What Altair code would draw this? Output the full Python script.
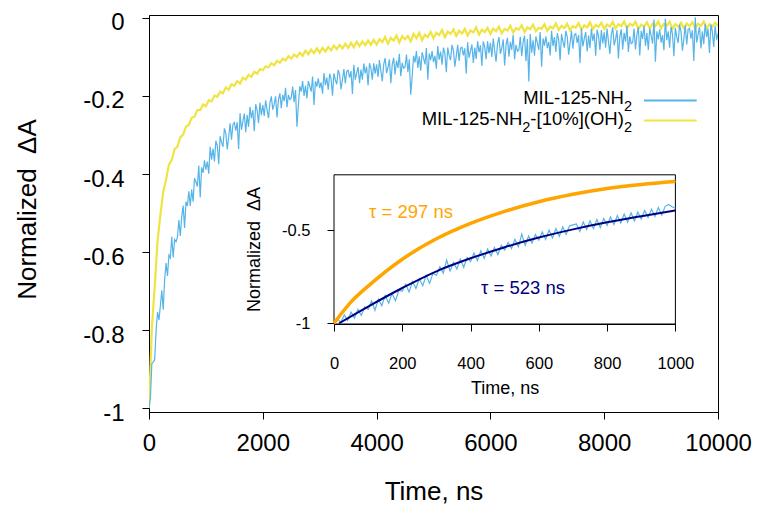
import altair as alt
import pandas as pd

FONT = "Liberation Sans, Arial, Helvetica, sans-serif"
BLUE = "#56B4E9"
YELLOW = "#F0E442"
ORANGE = "#FFA500"
NAVY = "#000080"

# ---------------- main panel data (time in ns, normalized dA) ----------------
t_blue_main = list(range(0, 10001, 25))
blue_main = [
    -1.000, -0.972, -0.886, -0.882, -0.876, -0.800, -0.754, -0.774, -0.737, -0.698,
    -0.748, -0.670, -0.628, -0.661, -0.608, -0.615, -0.561, -0.614, -0.568, -0.574,
    -0.562, -0.518, -0.559, -0.510, -0.481, -0.538, -0.471, -0.482, -0.444, -0.482,
    -0.440, -0.471, -0.411, -0.420, -0.432, -0.378, -0.460, -0.383, -0.397, -0.365,
    -0.389, -0.368, -0.399, -0.330, -0.363, -0.335, -0.368, -0.315, -0.327, -0.375,
    -0.303, -0.319, -0.330, -0.283, -0.295, -0.337, -0.305, -0.270, -0.312, -0.273,
    -0.268, -0.289, -0.267, -0.336, -0.244, -0.287, -0.265, -0.245, -0.293, -0.249,
    -0.279, -0.228, -0.257, -0.236, -0.290, -0.221, -0.236, -0.270, -0.217, -0.249,
    -0.223, -0.251, -0.211, -0.235, -0.257, -0.217, -0.201, -0.235, -0.221, -0.201,
    -0.255, -0.209, -0.193, -0.231, -0.197, -0.213, -0.179, -0.229, -0.197, -0.209,
    -0.205, -0.176, -0.216, -0.185, -0.279, -0.224, -0.175, -0.189, -0.162, -0.200,
    -0.173, -0.206, -0.162, -0.175, -0.189, -0.150, -0.223, -0.162, -0.176, -0.155,
    -0.180, -0.165, -0.194, -0.141, -0.172, -0.153, -0.184, -0.143, -0.156, -0.199,
    -0.142, -0.159, -0.170, -0.133, -0.146, -0.183, -0.158, -0.131, -0.168, -0.137,
    -0.134, -0.153, -0.136, -0.195, -0.120, -0.158, -0.141, -0.126, -0.167, -0.132,
    -0.158, -0.117, -0.142, -0.125, -0.173, -0.116, -0.129, -0.158, -0.116, -0.143,
    -0.119, -0.151, -0.108, -0.136, -0.162, -0.119, -0.103, -0.141, -0.127, -0.106,
    -0.167, -0.119, -0.102, -0.145, -0.109, -0.128, -0.092, -0.149, -0.115, -0.129,
    -0.126, -0.094, -0.139, -0.106, -0.197, -0.151, -0.097, -0.114, -0.085, -0.128,
    -0.098, -0.135, -0.088, -0.103, -0.119, -0.077, -0.158, -0.091, -0.108, -0.085,
    -0.113, -0.097, -0.130, -0.072, -0.107, -0.086, -0.120, -0.076, -0.091, -0.139,
    -0.076, -0.096, -0.108, -0.069, -0.083, -0.125, -0.098, -0.069, -0.110, -0.077,
    -0.075, -0.096, -0.078, -0.143, -0.062, -0.102, -0.085, -0.068, -0.115, -0.076,
    -0.105, -0.060, -0.088, -0.070, -0.123, -0.060, -0.074, -0.106, -0.060, -0.090,
    -0.064, -0.100, -0.053, -0.084, -0.112, -0.066, -0.049, -0.092, -0.077, -0.055,
    -0.122, -0.069, -0.051, -0.099, -0.061, -0.082, -0.043, -0.106, -0.069, -0.085,
    -0.082, -0.048, -0.098, -0.062, -0.045, -0.111, -0.054, -0.163, -0.041, -0.089,
    -0.057, -0.097, -0.047, -0.064, -0.082, -0.036, -0.125, -0.052, -0.071, -0.047,
    -0.077, -0.061, -0.096, -0.033, -0.072, -0.049, -0.087, -0.039, -0.055, -0.108,
    -0.041, -0.061, -0.076, -0.033, -0.048, -0.094, -0.065, -0.033, -0.079, -0.043,
    -0.040, -0.064, -0.044, -0.116, -0.027, -0.073, -0.053, -0.036, -0.086, -0.045,
    -0.077, -0.028, -0.059, -0.040, -0.097, -0.030, -0.046, -0.082, -0.031, -0.065,
    -0.037, -0.076, -0.027, -0.061, -0.092, -0.043, -0.024, -0.070, -0.055, -0.031,
    -0.104, -0.047, -0.029, -0.081, -0.038, -0.061, -0.020, -0.087, -0.047, -0.066,
    -0.063, -0.027, -0.081, -0.042, -0.024, -0.096, -0.033, -0.054, -0.020, -0.072,
    -0.038, -0.082, -0.027, -0.045, -0.066, -0.004, -0.112, -0.034, -0.055, -0.029,
    -0.063, -0.044, -0.083, -0.002, -0.057, -0.034, -0.076, -0.023, -0.041, -0.098,
    -0.025, -0.049, -0.064, -0.017, -0.035, -0.084, -0.053, -0.019, -0.068, -0.029,
    -0.027, -0.053, -0.032, -0.110, 0.002, -0.063, -0.042, -0.023, -0.078, -0.034,
    -0.067, -0.015, -0.049, -0.028, -0.090, -0.017, -0.035, -0.074, -0.020, -0.056,
    -0.040,
]
t_yellow_main = list(range(0, 10001, 50))
yellow_main = [
    -1.000, -0.795, -0.690, -0.572, -0.505, -0.446, -0.414, -0.376, -0.364, -0.336,
    -0.330, -0.306, -0.299, -0.278, -0.274, -0.256, -0.253, -0.236, -0.236, -0.222,
    -0.226, -0.211, -0.214, -0.199, -0.202, -0.189, -0.193, -0.178, -0.184, -0.170,
    -0.174, -0.162, -0.168, -0.153, -0.158, -0.146, -0.151, -0.138, -0.143, -0.131,
    -0.134, -0.124, -0.127, -0.116, -0.121, -0.110, -0.115, -0.104, -0.109, -0.098,
    -0.104, -0.094, -0.100, -0.089, -0.097, -0.084, -0.093, -0.081, -0.090, -0.078,
    -0.089, -0.077, -0.086, -0.074, -0.083, -0.071, -0.080, -0.069, -0.078, -0.066,
    -0.077, -0.064, -0.075, -0.061, -0.072, -0.060, -0.070, -0.058, -0.069, -0.056,
    -0.068, -0.054, -0.062, -0.049, -0.066, -0.051, -0.058, -0.045, -0.063, -0.047,
    -0.055, -0.046, -0.060, -0.041, -0.052, -0.038, -0.057, -0.043, -0.049, -0.036,
    -0.052, -0.038, -0.044, -0.031, -0.049, -0.035, -0.041, -0.029, -0.046, -0.033,
    -0.040, -0.028, -0.045, -0.032, -0.037, -0.024, -0.043, -0.030, -0.036, -0.025,
    -0.041, -0.027, -0.034, -0.022, -0.039, -0.028, -0.032, -0.020, -0.037, -0.026,
    -0.030, -0.019, -0.036, -0.024, -0.029, -0.017, -0.034, -0.025, -0.028, -0.016,
    -0.033, -0.022, -0.027, -0.014, -0.031, -0.020, -0.026, -0.015, -0.032, -0.021,
    -0.025, -0.013, -0.030, -0.019, -0.024, -0.011, -0.029, -0.018, -0.023, -0.012,
    -0.028, -0.017, -0.022, -0.010, -0.027, -0.016, -0.021, -0.009, -0.026, -0.015,
    -0.020, -0.010, -0.028, -0.017, -0.022, -0.011, -0.027, -0.014, -0.021, -0.009,
    -0.026, -0.015, -0.020, -0.010, -0.028, -0.016, -0.022, -0.012, -0.027, -0.014,
    -0.021, -0.011, -0.026, -0.015, -0.020, -0.009, -0.027, -0.016, -0.022, -0.012,
    -0.020,
]

# ---------------- inset data (first 1000 ns) ----------------
t_inset_blue = list(range(0, 1001, 10))
blue_inset = [
    -1.000, -0.975, -0.995, -0.955, -0.985, -0.940, -0.972, -0.925, -0.958, -0.912,
    -0.925, -0.880, -0.930, -0.870, -0.905, -0.850, -0.892, -0.840, -0.878, -0.822,
    -0.828, -0.790, -0.832, -0.775, -0.812, -0.760, -0.798, -0.742, -0.785, -0.730,
    -0.742, -0.695, -0.730, -0.660, -0.718, -0.672, -0.708, -0.655, -0.698, -0.645,
    -0.668, -0.622, -0.662, -0.610, -0.650, -0.600, -0.638, -0.592, -0.630, -0.580,
    -0.605, -0.565, -0.598, -0.548, -0.588, -0.520, -0.580, -0.530, -0.568, -0.522,
    -0.552, -0.508, -0.548, -0.498, -0.540, -0.490, -0.532, -0.480, -0.522, -0.475,
    -0.470, -0.465, -0.505, -0.455, -0.495, -0.448, -0.490, -0.440, -0.485, -0.435,
    -0.472, -0.428, -0.468, -0.420, -0.460, -0.412, -0.455, -0.405, -0.448, -0.400,
    -0.438, -0.392, -0.430, -0.385, -0.424, -0.376, -0.418, -0.370, -0.360, -0.372,
    -0.380,
]
t_inset_yellow = list(range(0, 1001, 20))
yellow_inset = [
    -1.000, -0.945, -0.915, -0.860, -0.838, -0.795, -0.774, -0.735, -0.714, -0.676,
    -0.658, -0.632, -0.614, -0.585, -0.571, -0.546, -0.534, -0.510, -0.500, -0.476,
    -0.466, -0.446, -0.438, -0.418, -0.411, -0.393, -0.388, -0.370, -0.366, -0.350,
    -0.346, -0.332, -0.329, -0.315, -0.313, -0.300, -0.299, -0.287, -0.286, -0.275,
    -0.276, -0.264, -0.265, -0.255, -0.256, -0.247, -0.249, -0.240, -0.243, -0.234,
    -0.236,
]
fit_297_t = [0, 50, 100, 200, 300, 400, 500, 600, 700, 800, 900, 1000]
fit_297_y = [-1.0, -0.885, -0.80, -0.655, -0.545, -0.462, -0.397, -0.345, -0.305, -0.274, -0.252, -0.236]
fit_523_t = [15, 100, 200, 300, 400, 500, 600, 700, 800, 900, 1000]
fit_523_y = [-1.0, -0.91, -0.81, -0.72, -0.65, -0.59, -0.538, -0.494, -0.456, -0.423, -0.392]

legend_row1 = ["MIL-125-NH", "2"]
legend_row2 = ["MIL-125-NH", "2", "-[10%](OH)", "2"]
tau_labels = ["\u03c4 = 297 ns", "\u03c4 = 523 ns"]
y_title = "Normalized\u00a0 \u0394A"

MAIN_X = [0, 10000]
MAIN_Y = [-1.01, 0.0076]
INSET_X = [0, 1000]
INSET_Y = [-1.004, -0.2]

W, H = 569, 397   # view: x 149..718, y 15..412 on the page

# ---------------- main panel ----------------
x_main = alt.X(
    "t:Q",
    scale=alt.Scale(domain=MAIN_X, nice=False, zero=False),
    axis=alt.Axis(
        orient="bottom", values=[0, 2000, 4000, 6000, 8000, 10000], format="d",
        title="Time, ns", tickSize=7, labelFontSize=24, labelPadding=12,
        labelFlush=False, labelOverlap=False,
        titleFontSize=26, titleX=284.5, titleY=87, titleAlign="center",
        titleBaseline="alphabetic",
    ),
)
y_main = alt.Y(
    "y:Q",
    scale=alt.Scale(domain=MAIN_Y, nice=False, zero=False),
    axis=alt.Axis(
        orient="left", values=[-1, -0.8, -0.6, -0.4, -0.2, 0],
        labelExpr="datum.value == 0 ? '0' : (datum.value <= -0.999 ? '-1' : '-' + format(abs(datum.value), '.1f'))",
        title=y_title, tickSize=7, labelFontSize=24, labelPadding=18, labelOffset=5,
        labelFlush=False, labelOverlap=False,
        titleFontSize=26, titleAngle=-90, titleX=-114, titleY=194,
        titleAlign="center", titleBaseline="alphabetic",
    ),
)

blue_line = alt.Chart(pd.DataFrame({"t": t_blue_main, "y": blue_main})).mark_line(
    color=BLUE, strokeWidth=1.2, clip=True
).encode(x=x_main, y=y_main)
yellow_line = alt.Chart(pd.DataFrame({"t": t_yellow_main, "y": yellow_main})).mark_line(
    color=YELLOW, strokeWidth=2.2, clip=True
).encode(x=x_main, y=y_main)

one = pd.DataFrame({"k": [0]})


def text_piece(txt, x, y, size, color, align="left", baseline="alphabetic"):
    return alt.Chart(pd.DataFrame({"text": [txt]})).mark_text(
        align=align, baseline=baseline, fontSize=size, font=FONT, color=color
    ).encode(x=alt.value(x), y=alt.value(y), text="text:N")


# legend (label on the left, line sample on the right)
LF, SF = 18.5, 14.5
legend = [
    text_piece(legend_row1[0], 474.9, 89, LF, "black", align="right"),
    text_piece(legend_row1[1], 483, 96, SF, "black", align="right"),
    text_piece(legend_row2[0], 373.4, 110, LF, "black", align="right"),
    text_piece(legend_row2[1], 381.4, 117, SF, "black", align="right"),
    text_piece(legend_row2[2], 474.9, 110, LF, "black", align="right"),
    text_piece(legend_row2[3], 483, 117, SF, "black", align="right"),
    alt.Chart(one).mark_rule(color=BLUE, strokeWidth=1.8).encode(
        x=alt.value(495), x2=alt.value(547.7), y=alt.value(85.5)),
    alt.Chart(one).mark_rule(color=YELLOW, strokeWidth=1.8).encode(
        x=alt.value(495), x2=alt.value(547.7), y=alt.value(105.5)),
]

main_layer = alt.layer(yellow_line, blue_line, *legend)

# ---------------- inset panel ----------------
x_in_scale = alt.Scale(domain=INSET_X, range=[185, 526.4], nice=False, zero=False)
y_in_scale = alt.Scale(domain=INSET_Y, range=[309, 159.8], nice=False, zero=False)
x_in_axis = alt.Axis(
    orient="bottom", offset=-88, values=[0, 200, 400, 600, 800, 1000], format="d",
    title="Time, ns", tickSize=7, labelFontSize=16.5, labelPadding=24,
    labelFlush=False, labelOverlap=False,
    titleFontSize=18, titleX=355.7, titleY=69.3, titleAlign="center",
    titleBaseline="alphabetic",
)
y_in_axis = alt.Axis(
    orient="left", offset=-185, values=[-1, -0.5],
    labelExpr="datum.value <= -0.999 ? '-1' : '-0.5'",
    title=y_title, tickSize=7, labelFontSize=16.5, labelPadding=17,
    labelFlush=False, labelOverlap=False,
    titleFontSize=18, titleAngle=-90, titleX=-74.7, titleY=234,
    titleAlign="center", titleBaseline="alphabetic",
)

frame = alt.Chart(one).mark_rect(fill="white", stroke="black", strokeWidth=1).encode(
    x=alt.XDatum(INSET_X[0], scale=x_in_scale, axis=x_in_axis, type="quantitative"),
    x2=alt.X2Datum(INSET_X[1]),
    y=alt.YDatum(INSET_Y[0], scale=y_in_scale, axis=y_in_axis, type="quantitative"),
    y2=alt.Y2Datum(INSET_Y[1]),
)

x_in = alt.X("t:Q", scale=x_in_scale, axis=x_in_axis)
y_in = alt.Y("y:Q", scale=y_in_scale, axis=y_in_axis)

blue_in = alt.Chart(pd.DataFrame({"t": t_inset_blue, "y": blue_inset})).mark_line(
    color=BLUE, strokeWidth=1.2).encode(x=x_in, y=y_in)
yellow_in = alt.Chart(pd.DataFrame({"t": t_inset_yellow, "y": yellow_inset})).mark_line(
    color=YELLOW, strokeWidth=1.2).encode(x=x_in, y=y_in)
fit_a = alt.Chart(pd.DataFrame({"t": fit_297_t, "y": fit_297_y})).mark_line(
    color=ORANGE, strokeWidth=3.5, interpolate="monotone").encode(x=x_in, y=y_in)
fit_b = alt.Chart(pd.DataFrame({"t": fit_523_t, "y": fit_523_y})).mark_line(
    color=NAVY, strokeWidth=2, interpolate="monotone").encode(x=x_in, y=y_in)

tau_a = text_piece(tau_labels[0], 220, 196.7, 18.5, ORANGE, baseline="middle")
tau_b = text_piece(tau_labels[1], 332, 272.7, 18.5, NAVY, baseline="middle")

inset_layer = alt.layer(frame, blue_in, yellow_in, fit_a, fit_b, tau_a, tau_b)

chart = (
    alt.layer(main_layer, inset_layer)
    .resolve_scale(x="independent", y="independent")
    .properties(
        width=W, height=H,
        autosize=alt.AutoSizeParams(type="none"),
        padding={"left": 141, "top": 7, "right": 40, "bottom": 94},
        background="white",
    )
    .configure_view(stroke="black", strokeWidth=1)
    .configure_axis(
        grid=False, domainColor="black", tickColor="black", domainWidth=1, tickWidth=1,
        labelColor="black", titleColor="black", labelFont=FONT, titleFont=FONT,
        titleFontWeight="normal",
    )
)

chart.save("out.html", embed_options={"renderer": "svg", "actions": False})
